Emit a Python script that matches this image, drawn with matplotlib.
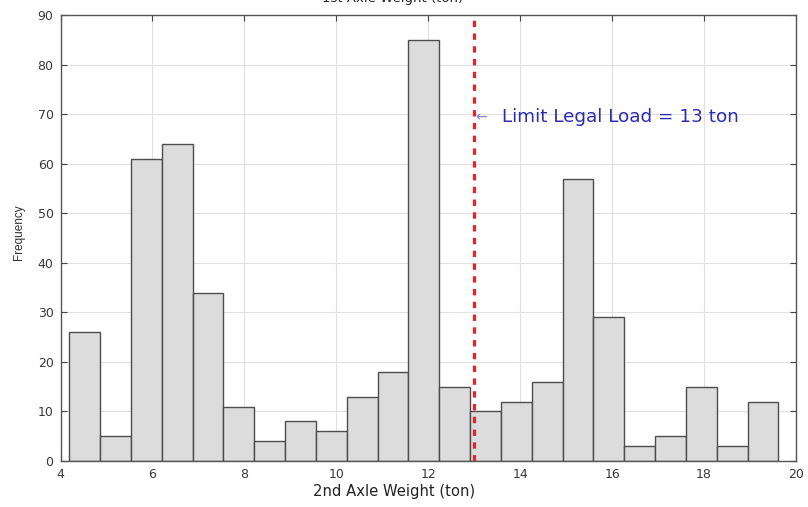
# 2nd axle weight histogram with legal load limit line

import numpy as np
import matplotlib
matplotlib.use('Agg')
import matplotlib.pyplot as plt

plt.rcParams['font.family'] = ['DejaVu Sans']

# bin counts (23 equal bins)
counts = [26, 5, 61, 64, 34, 11, 4, 8, 6, 13, 18, 85, 15,
          10, 12, 16, 57, 29, 3, 5, 15, 3, 12]
bin_lo = 4.19
bin_hi = 19.62
limit_load = 13
x_ticks = [4, 6, 8, 10, 12, 14, 16, 18, 20]
y_ticks = [0, 10, 20, 30, 40, 50, 60, 70, 80, 90]

edges = np.linspace(bin_lo, bin_hi, len(counts) + 1)
centers = (edges[:-1] + edges[1:]) / 2

fig = plt.figure(figsize=(8.08, 5.07), dpi=100)
ax = fig.add_axes([0.0749, 0.0907, 0.9102, 0.8797])

ax.hist(centers, bins=edges, weights=counts, color='#dcdcdc',
        edgecolor='#4d4d4d', linewidth=1.0, zorder=2)

line, = ax.plot([limit_load, limit_load], [0, 90], color='#e3242b',
                linewidth=2.3, zorder=3)
line.set_dashes([2, 2])

ax.text(limit_load + 0.02, 69.4, '\u2190', color='#8080d0', fontsize=10,
        va='center', ha='left', zorder=4)
ax.text(limit_load + 0.6, 69.4, 'Limit Legal Load = 13 ton', color='#2b2bb0',
        fontsize=13.2, va='center', ha='left', zorder=4)

ax.set_xlim(4, 20)
ax.set_ylim(0, 90)
ax.set_xticks(x_ticks)
ax.set_yticks(y_ticks)
ax.tick_params(direction='in', top=True, right=True, length=4,
               color='#444444', labelsize=9, labelcolor='#383838', pad=5)
ax.grid(True, color='#e0e0e0', linewidth=0.8, zorder=0)
ax.set_axisbelow(True)
for s in ax.spines.values():
    s.set_color('#555555')
    s.set_linewidth(1.0)

ax.set_xlabel('2nd Axle Weight (ton)', fontsize=10.6, color='#222222')
ax.xaxis.set_label_coords(0.454, -0.052)
ax.set_ylabel('Frequency', fontsize=8.5, color='#333333',
              family=['Liberation Sans'])
ax.yaxis.set_label_coords(-0.048, 0.513)

# title of the chart above, cut by the crop
fig.text(0.486, 1.003, '1st Axle Weight (ton)', ha='center', va='center',
         fontsize=9.5, color='#222222')

fig.savefig('out.png', dpi=100)
plt.close()
